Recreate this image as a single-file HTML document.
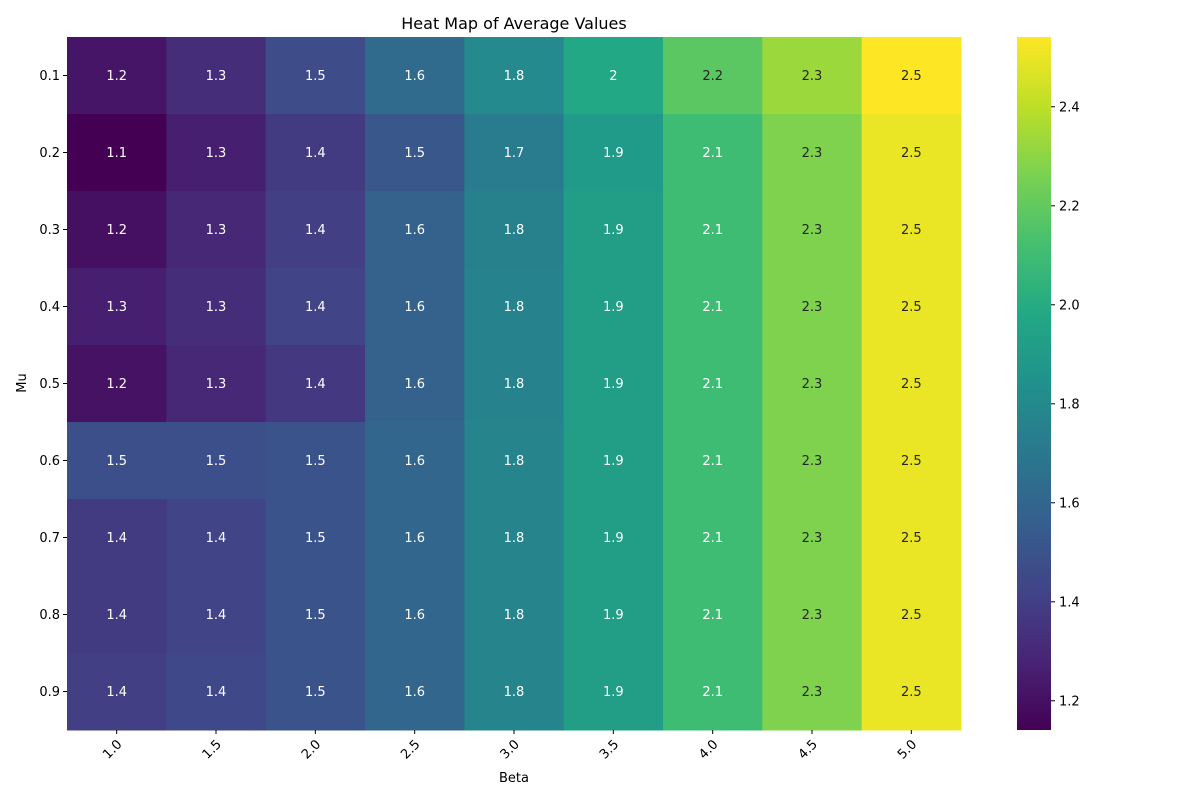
<!DOCTYPE html>
<html><head><meta charset="utf-8"><style>
body{margin:0;background:#fff;}
svg{font-family:"DejaVu Sans","Liberation Sans",sans-serif;}
</style></head><body>
<svg id="chart" width="1200" height="800" viewBox="0 0 1200 800" xmlns="http://www.w3.org/2000/svg">
<defs><linearGradient id="vir" x1="0" y1="1" x2="0" y2="0"></linearGradient></defs>
<text x="514" y="29" font-size="16" text-anchor="middle" fill="#000">Heat Map of Average Values</text>
<text x="514" y="782" font-size="13" text-anchor="middle">Beta</text>
<text x="26" y="383" font-size="13" text-anchor="middle" transform="rotate(-90 26 383)">Mu</text>
<g id="cells"></g><g id="xt"></g><g id="yt"></g><g id="cb"></g>
</svg>
<script>
const betas=["1.0","1.5","2.0","2.5","3.0","3.5","4.0","4.5","5.0"];
const mus=["0.1","0.2","0.3","0.4","0.5","0.6","0.7","0.8","0.9"];
const values=[
[1.22,1.32,1.46,1.62,1.80,1.98,2.18,2.33,2.54],
[1.14,1.26,1.38,1.52,1.72,1.90,2.10,2.27,2.50],
[1.20,1.30,1.40,1.58,1.75,1.92,2.10,2.27,2.50],
[1.26,1.32,1.42,1.58,1.76,1.92,2.10,2.27,2.50],
[1.21,1.30,1.37,1.58,1.76,1.92,2.10,2.27,2.50],
[1.48,1.48,1.50,1.60,1.77,1.92,2.10,2.27,2.50],
[1.38,1.42,1.50,1.60,1.77,1.92,2.10,2.27,2.50],
[1.38,1.42,1.50,1.60,1.77,1.92,2.10,2.27,2.50],
[1.40,1.44,1.50,1.60,1.77,1.92,2.10,2.27,2.50]];
const cbTicks=[1.2,1.4,1.6,1.8,2.0,2.2,2.4];
const vmin=1.141,vmax=2.541;
const NS="http://www.w3.org/2000/svg";
const stops=["#440154","#482475","#414487","#355f8d","#2a788e","#21918c","#22a884","#44bf70","#7ad151","#bddf26","#fde725"];
function hex(h){return [1,3,5].map(i=>parseInt(h.substr(i,2),16));}
function cmap(v){let t=Math.max(0,Math.min(1,(v-vmin)/(vmax-vmin)))*10;let i=Math.min(9,Math.floor(t)),f=t-i;
 const a=hex(stops[i]),b=hex(stops[i+1]);return "rgb("+a.map((x,k)=>Math.round(x+(b[k]-x)*f)).join(",")+")";}
const X0=67,X1=961,Y0=37,Y1=730;
const cw=(X1-X0)/betas.length,ch=(Y1-Y0)/mus.length;
function xs(i){return X0+i*cw;} function ys(j){return Y0+j*ch;}
function mk(tag,attrs,parent,txt){const e=document.createElementNS(NS,tag);for(const k in attrs)e.setAttribute(k,attrs[k]);if(txt!==undefined)e.textContent=txt;parent.appendChild(e);return e;}
const cells=document.getElementById('cells');
values.forEach((row,j)=>row.forEach((v,i)=>{
 const r=mk('rect',{x:xs(i),y:ys(j),width:cw+0.5,height:ch+0.5,fill:cmap(v)},cells);
 
 
 const t=mk('text',{x:xs(i)+cw/2,y:ys(j)+ch/2+4.5,'font-size':13,'text-anchor':'middle',fill:v>2.15?'#262626':'#fff'},cells,String(Number(v.toPrecision(2))));
 
 
}));
const xt=document.getElementById('xt');
betas.forEach((b,i)=>{const cx=xs(i)+cw/2;
 mk('line',{x1:cx,x2:cx,y1:Y1,y2:Y1+4,stroke:'#000'},xt);
 const t=mk('text',{x:cx+6,y:Y1+15,'font-size':13,'text-anchor':'end',transform:`rotate(-45 ${cx+6} ${Y1+15})`},xt,b);
 
 });
const yt=document.getElementById('yt');
mus.forEach((m,j)=>{const cy=ys(j)+ch/2;
 mk('line',{x1:X0-4,x2:X0,y1:cy,y2:cy,stroke:'#000'},yt);
 const t=mk('text',{x:X0-7,y:cy+4.5,'font-size':13,'text-anchor':'end'},yt,m);
 
 });
const g=document.getElementById('vir');
stops.forEach((c,i)=>mk('stop',{offset:(i*10)+'%','stop-color':c},g));
const cb=document.getElementById('cb');
const bar=mk('rect',{x:1017,y:Y0,width:34,height:Y1-Y0,fill:'url(#vir)'},cb);


cbTicks.forEach(v=>{const y=Y1-(v-vmin)/(vmax-vmin)*(Y1-Y0);
 mk('line',{x1:1051,x2:1055,y1:y,y2:y,stroke:'#000'},cb);
 const t=mk('text',{x:1059,y:y+4.5,'font-size':13},cb,v.toFixed(1));
 
 });
</script>
</body></html>
